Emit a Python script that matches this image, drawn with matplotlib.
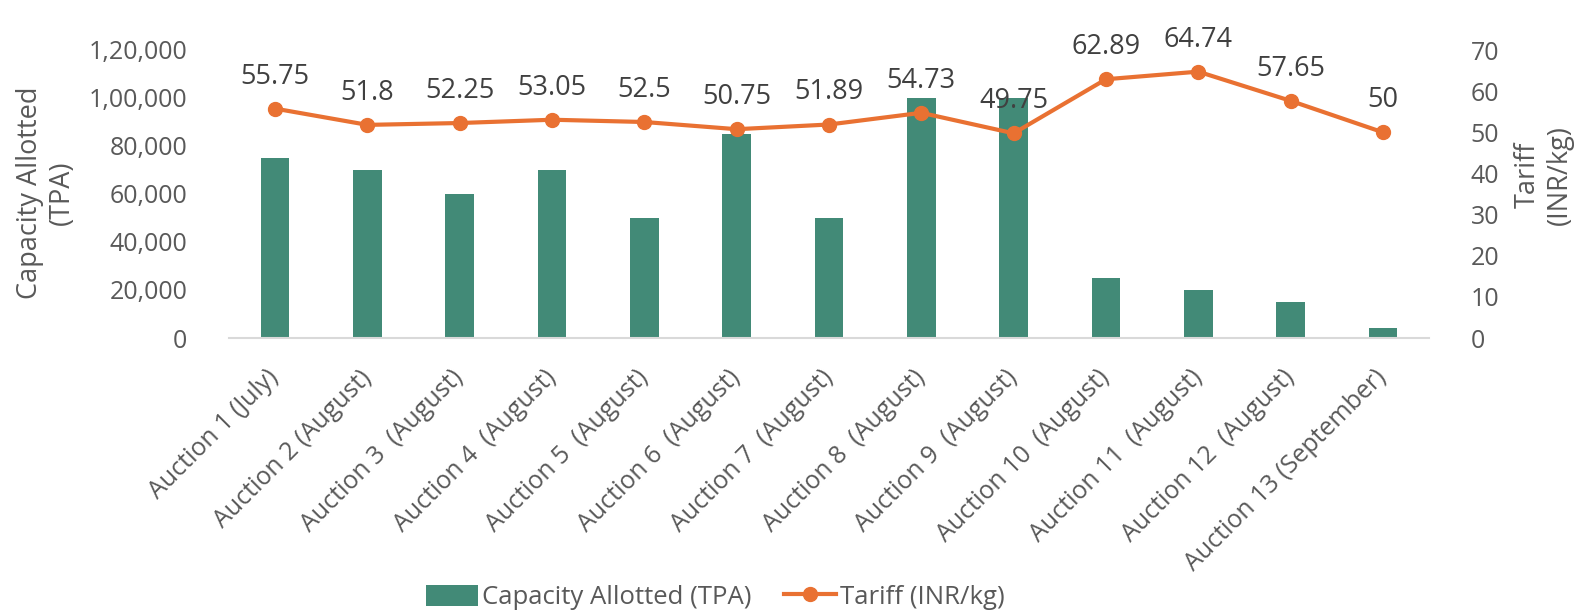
import matplotlib
matplotlib.use("Agg")
import matplotlib.pyplot as plt
from matplotlib.patches import Patch
from matplotlib.lines import Line2D

categories = ["Auction 1 (July)", "Auction 2 (August)", "Auction 3  (August)",
              "Auction 4  (August)", "Auction 5  (August)", "Auction 6  (August)",
              "Auction 7  (August)", "Auction 8  (August)", "Auction 9  (August)",
              "Auction 10  (August)", "Auction 11  (August)", "Auction 12  (August)",
              "Auction 13 (September)"]
capacity = [75000, 70000, 60000, 70000, 50000, 85000, 50000, 100000, 100000,
            25000, 20000, 15000, 4000]
tariff = [55.75, 51.8, 52.25, 53.05, 52.5, 50.75, 51.89, 54.73, 49.75,
          62.89, 64.74, 57.65, 50]
tariff_labels = ["55.75", "51.8", "52.25", "53.05", "52.5", "50.75", "51.89",
                 "54.73", "49.75", "62.89", "64.74", "57.65", "50"]
left_ticks = [0, 20000, 40000, 60000, 80000, 100000, 120000]
left_tick_labels = ["0", "20,000", "40,000", "60,000", "80,000", "1,00,000", "1,20,000"]
right_ticks = [0, 10, 20, 30, 40, 50, 60, 70]

plt.rcParams['font.family'] = ['Open Sans', 'DejaVu Sans']
GREEN = "#428A77"
ORANGE = "#E97132"
GRAY = "#595959"
DARK = "#404040"

fig = plt.figure(figsize=(15.88, 6.12), dpi=100)
ax = fig.add_axes([229/1588, 274/612, 1200/1588, 288/612])
x = list(range(len(categories)))
ax.bar(x, capacity, width=0.31, color=GREEN, zorder=2)
ax.set_xlim(-0.5, len(categories) - 0.5)
ax.set_ylim(0, 120000)
ax.set_yticks(left_ticks)
ax.set_yticklabels(left_tick_labels)
ax.set_xticks(x)
ax.set_xticklabels(categories, rotation=45, ha='right', va='center',
                   rotation_mode='anchor', fontsize=18, color=GRAY)
for s in ['top', 'left', 'right']:
    ax.spines[s].set_visible(False)
ax.spines['bottom'].set_color('#D9D9D9')
ax.spines['bottom'].set_linewidth(1.5)
ax.tick_params(axis='x', length=0, pad=26)
ax.tick_params(axis='y', length=0, labelsize=18, labelcolor=GRAY, pad=30)
ax.set_ylabel("Capacity Allotted\n(TPA)", fontsize=19.5, color=GRAY,
              linespacing=1.2)
ax.yaxis.set_label_coords(-0.1275, 0.503)

ax2 = ax.twinx()
ax2.plot(x, tariff, color=ORANGE, lw=3, marker='o', markersize=10, zorder=3)
ax2.set_ylim(0, 70)
ax2.set_yticks(right_ticks)
for s in ['top', 'left', 'right', 'bottom']:
    ax2.spines[s].set_visible(False)
ax2.tick_params(axis='y', length=0, labelsize=18, labelcolor=GRAY, pad=30)
ax2.set_ylabel("Tariff\n(INR/kg)", fontsize=19.5, color=GRAY, rotation=90,
               linespacing=1.2)
ax2.yaxis.set_label_coords(1.0708, 0.566)
for xi, yi, lab in zip(x, tariff, tariff_labels):
    ax2.annotate(lab, (xi, yi), xytext=(0, 13), textcoords='offset points',
                 ha='center', va='bottom', fontsize=19.5, color=DARK)

handles = [Patch(facecolor=GREEN, label="Capacity Allotted (TPA)"),
           Line2D([0], [0], color=ORANGE, lw=3, marker='o', markersize=10,
                  label="Tariff (INR/kg)")]
fig.legend(handles=handles, loc='center', bbox_to_anchor=(0.4505, 0.024), ncol=2,
           frameon=False, fontsize=18.5, labelcolor=GRAY, handlelength=2.0,
           handleheight=0.9, columnspacing=1.3, handletextpad=0.15,
           borderpad=0.1)

fig.savefig("out.png", dpi=100)
